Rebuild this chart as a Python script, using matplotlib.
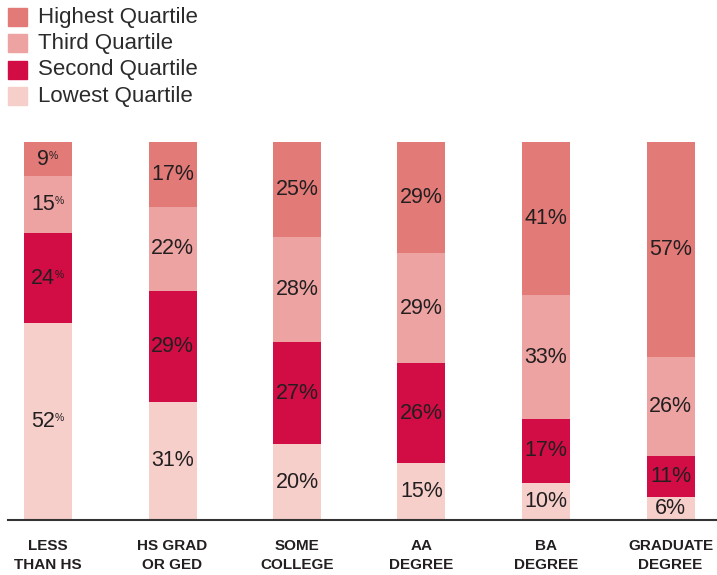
import matplotlib.pyplot as plt
import numpy as np
from matplotlib.patches import Rectangle

categories = ["LESS\nTHAN HS", "HS GRAD\nOR GED", "SOME\nCOLLEGE",
              "AA\nDEGREE", "BA\nDEGREE", "GRADUATE\nDEGREE"]
series = ["Lowest Quartile", "Second Quartile", "Third Quartile", "Highest Quartile"]
lowest = [52, 31, 20, 15, 10, 6]
second = [24, 29, 27, 26, 17, 11]
third = [15, 22, 28, 29, 33, 26]
highest = [9, 17, 25, 29, 41, 57]
small_pct = [True, False, False, False, False, False]

colors = {
    "Lowest Quartile": "#f6cfca",
    "Second Quartile": "#d20c44",
    "Third Quartile": "#eda3a1",
    "Highest Quartile": "#e27a78",
}
TXT = "#231f20"

plt.rcParams["font.family"] = ["Liberation Sans", "DejaVu Sans"]

W, H = 717, 575
X0, STEP = 48, 124.5          # bar centre of first bar and spacing, px
fig = plt.figure(figsize=(W / 100, H / 100), dpi=100)
ax = fig.add_axes([0, (H - 520) / H, 1, 378 / H])

x = np.arange(len(categories))
data = np.array([lowest, second, third, highest], dtype=float)
shares = data / data.sum(axis=0)

LAB_FS = 15.5
PCT_FS = 7.5
px2pt = 72 / 100
digit_w = 0.556 * LAB_FS / px2pt      # px per digit, Liberation Sans
pct_w = 0.889 * PCT_FS / px2pt

bottom = np.zeros(len(categories))
for name, vals, raw in zip(series, shares, data):
    ax.bar(x, vals, bottom=bottom, width=48 / STEP, color=colors[name], linewidth=0)
    for i in range(len(x)):
        yc = bottom[i] + vals[i] / 2
        num = f"{int(raw[i])}"
        if small_pct[i]:
            w = len(num) * digit_w
            ax.annotate(num, (x[i], yc), xytext=(-pct_w / 2 * px2pt, 0),
                        textcoords="offset points", ha="center", va="center",
                        fontsize=LAB_FS, color=TXT)
            ax.annotate("%", (x[i], yc), xytext=((w / 2 - pct_w / 2 - 0.5) * px2pt, 8.5 * px2pt),
                        textcoords="offset points", ha="left", va="top",
                        fontsize=PCT_FS, color=TXT)
        else:
            ax.text(x[i], yc, num + "%", ha="center", va="center",
                    fontsize=LAB_FS, color=TXT)
    bottom += vals

ax.set_xlim(-X0 / STEP, (W - X0) / STEP)
ax.set_ylim(0, 1)
ax.axis("off")
ax.axhline(0, xmin=8 / W, xmax=1, color="#333333", lw=1.5, clip_on=False)

# category labels under the baseline
for i, cat in enumerate(categories):
    ax.text(x[i], -(555.5 - 520) / 378, cat, transform=ax.get_xaxis_transform(),
            ha="center", va="center", fontsize=11, fontweight="bold",
            linespacing=1.4, color=TXT)

# legend, top left
legend_order = ["Highest Quartile", "Third Quartile", "Second Quartile", "Lowest Quartile"]
for k, name in enumerate(legend_order):
    yc = 17 + 26.4 * k
    fig.patches.append(Rectangle((8 / W, (H - yc - 9) / H), 19 / W, 18 / H,
                                 transform=fig.transFigure, color=colors[name]))
    fig.text(38 / W, (H - yc) / H, name, ha="left", va="center",
             fontsize=16, color="#2b2b2b")

fig.savefig("out.png", dpi=100)
